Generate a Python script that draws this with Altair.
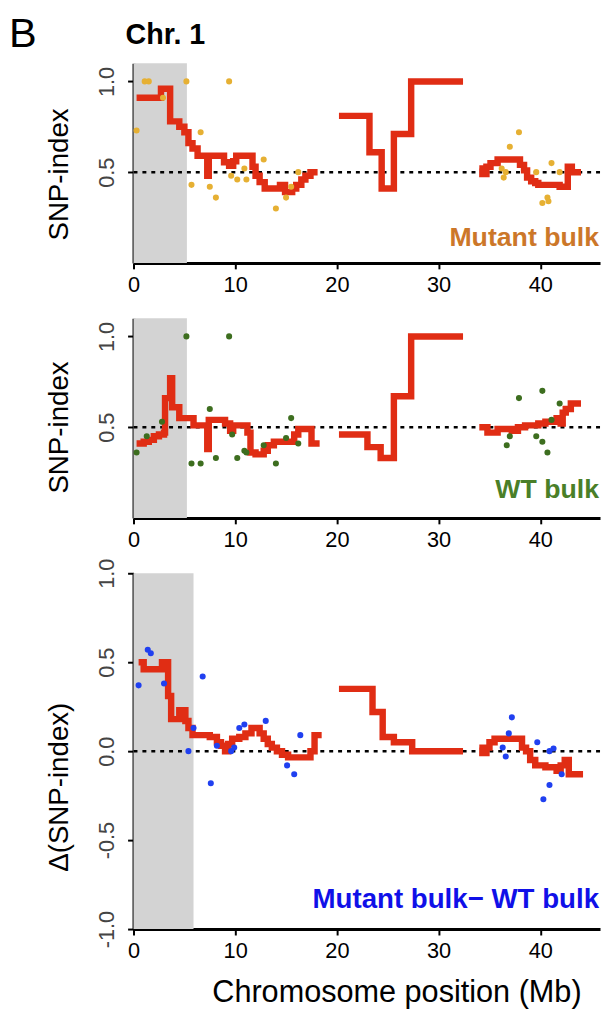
import altair as alt
import pandas as pd

FONT = "Liberation Sans, Arial, Helvetica, sans-serif"

# ---------------- data ----------------
# x-axis ticks (Mb)
x_ticks = [0, 10, 20, 30, 40]
x_max = 45.87

# Panel 1: Mutant bulk SNP-index (sliding-window line, three segments)
mut_seg1_x = [0.3, 2.7, 3.6, 4.5, 5.0, 5.4, 5.8, 6.3, 7.25, 7.4, 8.9, 9.4, 9.8, 10.1, 11.7, 12.0, 12.4, 12.9, 14.4, 14.9, 15.6, 16.0, 16.5, 16.9, 17.4, 18.1]
mut_seg1_y = [0.91, 0.96, 0.78, 0.75, 0.72, 0.66, 0.63, 0.59, 0.48, 0.59, 0.555, 0.535, 0.56, 0.59, 0.53, 0.48, 0.445, 0.41, 0.43, 0.39, 0.41, 0.43, 0.46, 0.48, 0.50, 0.50]
mut_seg2_x = [20.2, 23.2, 24.4, 25.6, 27.3, 32.4]
mut_seg2_y = [0.81, 0.61, 0.41, 0.71, 1.0, 1.0]
mut_seg3_x = [34.0, 34.3, 34.7, 35.1, 35.8, 38.0, 38.4, 38.7, 39.1, 39.5, 39.8, 41.9, 42.7, 43.1, 44.0]
mut_seg3_y = [0.52, 0.49, 0.53, 0.55, 0.57, 0.54, 0.51, 0.47, 0.45, 0.44, 0.43, 0.42, 0.53, 0.50, 0.50]
mut_pts_x = [0.3, 1.1, 1.5, 2.9, 5.2, 5.7, 6.6, 7.5, 8.1, 9.4, 9.6, 10.2, 10.9, 11.1, 12.8, 14.0, 15.0, 15.5, 16.2,
             36.2, 36.4, 36.6, 37.0, 37.9, 39.6, 40.2, 40.7, 40.8, 41.1, 41.9]
mut_pts_y = [0.73, 1.0, 1.0, 0.91, 1.0, 0.43, 0.72, 0.42, 0.36, 1.0, 0.48, 0.46, 0.52, 0.46, 0.57, 0.30, 0.36, 0.42, 0.50,
             0.52, 0.47, 0.50, 0.64, 0.72, 0.50, 0.33, 0.36, 0.34, 0.55, 0.50]

# Panel 2: WT bulk SNP-index
wt_seg1_x = [0.3, 1.0, 1.5, 2.0, 2.5, 3.0, 3.1, 3.6, 3.8, 4.5, 5.9, 7.25, 7.4, 9.0, 9.5, 9.8, 11.2, 11.5, 12.0, 12.8, 13.2, 13.8, 15.8, 16.2, 17.5, 18.3]
wt_seg1_y = [0.41, 0.42, 0.43, 0.45, 0.46, 0.47, 0.66, 0.77, 0.61, 0.55, 0.51, 0.38, 0.54, 0.52, 0.48, 0.51, 0.47, 0.36, 0.35, 0.37, 0.40, 0.42, 0.46, 0.49, 0.41, 0.41]
wt_seg2_x = [20.2, 23.0, 24.3, 25.6, 27.3, 32.4]
wt_seg2_y = [0.46, 0.39, 0.33, 0.67, 1.0, 1.0]
wt_seg3_x = [34.0, 34.8, 35.8, 37.2, 37.8, 38.5, 39.8, 40.5, 41.6, 42.0, 42.2, 42.5, 43.0, 44.0]
wt_seg3_y = [0.50, 0.47, 0.49, 0.48, 0.50, 0.51, 0.52, 0.53, 0.55, 0.52, 0.58, 0.60, 0.63, 0.63]
wt_pts_x = [0.3, 1.3, 2.8, 5.2, 5.7, 6.6, 7.5, 8.1, 9.4, 9.7, 10.2, 10.9, 11.1, 12.8, 14.0, 15.0, 15.5, 16.2,
            36.7, 37.0, 37.9, 39.6, 40.2, 40.2, 40.7, 41.1, 41.9]
wt_pts_y = [0.36, 0.45, 0.53, 1.0, 0.30, 0.30, 0.60, 0.33, 1.0, 0.46, 0.33, 0.37, 0.36, 0.40, 0.30, 0.44, 0.55, 0.41,
            0.40, 0.45, 0.66, 0.45, 0.70, 0.42, 0.36, 0.54, 0.63]

# Panel 3: delta SNP-index
d_seg1_x = [0.5, 1.0, 2.8, 3.4, 3.7, 4.5, 5.1, 5.4, 5.8, 6.1, 7.5, 8.2, 8.6, 9.0, 9.3, 9.7, 10.4, 11.0, 11.6, 12.4, 12.8, 13.2, 13.6, 14.1, 14.6, 15.2, 17.4, 17.8, 18.5]
d_seg1_y = [0.50, 0.46, 0.50, 0.31, 0.18, 0.23, 0.17, 0.13, 0.09, 0.09, 0.08, 0.05, 0.03, 0.00, 0.04, 0.07, 0.08, 0.10, 0.13, 0.10, 0.07, 0.04, 0.02, 0.00, -0.02, -0.035, 0.0, 0.09, 0.09]
d_seg2_x = [20.2, 23.5, 24.5, 25.6, 27.4, 32.4]
d_seg2_y = [0.35, 0.22, 0.08, 0.05, 0.0, 0.0]
d_seg3_x = [34.0, 34.3, 34.7, 35.0, 35.5, 38.2, 38.6, 39.0, 39.5, 40.5, 41.6, 42.0, 42.4, 42.8, 44.2]
d_seg3_y = [0.02, -0.01, 0.02, 0.05, 0.07, 0.02, 0.0, -0.05, -0.08, -0.09, -0.11, -0.08, -0.05, -0.13, -0.13]
d_pts_x = [0.5, 1.4, 1.7, 3.0, 5.4, 5.9, 6.8, 7.6, 8.2, 9.6, 9.9, 10.4, 10.9, 13.0, 15.1, 15.8, 16.4,
           36.3, 36.6, 36.9, 37.2, 39.7, 40.3, 40.9, 40.9, 41.3, 42.1]
d_pts_y = [0.37, 0.57, 0.55, 0.38, 0.0, 0.13, 0.42, -0.18, 0.03, 0.0, 0.02, 0.13, 0.15, 0.17, -0.08, -0.13, 0.09,
           0.02, -0.03, 0.10, 0.19, 0.05, -0.27, -0.19, 0.0, 0.015, -0.13]

# candidate region shading (Mb)
shade_end_snp = 5.25
shade_end_delta = 5.9

RED = "#e02d14"
W = 472


def seg_df(segs):
    rows = []
    for i, (xs, ys) in enumerate(segs):
        for a, b in zip(xs, ys):
            rows.append({"x": a, "y": b, "seg": i})
    return pd.DataFrame(rows)


def panel(h, ydom, yticks, ytitle, ytitle_y, shade_end, segs, px, py, pcolor,
          label, lcolor, lsize, label_y, ref, xtitle=None, extra=None):
    xscale = alt.Scale(domain=[0, x_max], nice=False, zero=False)
    yscale = alt.Scale(domain=ydom, nice=False, zero=False)
    xkw = dict(values=x_ticks, labelFontSize=22, labelPadding=6, labelColor="black",
               labelFlush=False, labelOverlap=False, format="d")
    if xtitle:
        xkw.update(title=xtitle, titleX=266, titleY=73, titleAlign="center",
                   titleBaseline="alphabetic", titleFontSize=31, titleFontWeight="normal",
                   titleColor="black")
    else:
        xkw.update(title=None)
    xaxis = alt.Axis(**xkw)
    yaxis = alt.Axis(values=yticks, labelAngle=-90, labelAlign="center", labelBaseline="alphabetic",
                     labelPadding=14, labelFontSize=22, labelColor="#444444", labelFlush=False,
                     labelOverlap=False,
                     labelExpr="replace(format(datum.value, '.1f'), '\u2212', '-')",
                     title=ytitle, titleAngle=270, titleAlign="center", titleBaseline="alphabetic",
                     titleX=-67, titleY=ytitle_y, titleFontSize=28, titleFontWeight="normal",
                     titleColor="black")
    X = alt.X("x:Q", scale=xscale, axis=xaxis)
    Y = alt.Y("y:Q", scale=yscale, axis=yaxis)

    shade = alt.Chart(pd.DataFrame({"x": [0.0], "x2": [shade_end]})).mark_rect(color="#d3d3d3").encode(
        x=X, x2="x2:Q", y=alt.value(0), y2=alt.value(h))
    rule = alt.Chart(pd.DataFrame({"y": [ref]})).mark_rule(
        color="black", strokeDash=[4, 5], strokeWidth=2.5).encode(y=Y)
    line = alt.Chart(seg_df(segs)).mark_line(
        interpolate="step-after", color=RED, strokeWidth=6.5, strokeJoin="miter").encode(
        x=X, y=Y, detail="seg:N")
    pts = alt.Chart(pd.DataFrame({"x": px, "y": py})).mark_circle(
        size=38, color=pcolor, opacity=1).encode(x=X, y=Y)
    txt = alt.Chart(pd.DataFrame({"t": [label]})).mark_text(
        align="right", baseline="alphabetic", font=FONT, fontSize=lsize, fontWeight="bold",
        color=lcolor).encode(text="t:N", x=alt.value(471), y=alt.value(label_y))
    layers = [shade, rule, line, pts, txt]
    if extra:
        layers += extra
    return alt.layer(*layers).properties(width=W, height=h)


# invisible anchor fixing the top-left corner of the whole figure
anchor = alt.Chart(pd.DataFrame({"a": [0]})).mark_rect(opacity=0).encode(
    x=alt.value(-127), x2=alt.value(-126), y=alt.value(-50), y2=alt.value(-49))
b_txt = alt.Chart(pd.DataFrame({"t": ["B"]})).mark_text(
    align="left", baseline="alphabetic", font=FONT, fontSize=42, color="black").encode(
    text="t:N", x=alt.value(-126), y=alt.value(-16))
chr_txt = alt.Chart(pd.DataFrame({"t": ["Chr. 1"]})).mark_text(
    align="left", baseline="alphabetic", font=FONT, fontSize=29, fontWeight="bold", color="black").encode(
    text="t:N", x=alt.value(-8), y=alt.value(-19))

p1 = panel(202, [0, 1.1], [0.5, 1.0], "SNP-index", 112, shade_end_snp,
           [(mut_seg1_x, mut_seg1_y), (mut_seg2_x, mut_seg2_y), (mut_seg3_x, mut_seg3_y)],
           mut_pts_x, mut_pts_y, "#e6b033", "Mutant bulk", "#cc7729", 27, 185, 0.5,
           extra=[anchor, b_txt, chr_txt])
p2 = panel(202, [0, 1.1], [0.5, 1.0], "SNP-index", 110, shade_end_snp,
           [(wt_seg1_x, wt_seg1_y), (wt_seg2_x, wt_seg2_y), (wt_seg3_x, wt_seg3_y)],
           wt_pts_x, wt_pts_y, "#3d6e1f", "WT bulk", "#4a7f28", 27, 182, 0.5)
p3 = panel(360, [-1, 1], [-1.0, -0.5, 0.0, 0.5, 1.0], "\u0394(SNP-index)", 216, shade_end_delta,
           [(d_seg1_x, d_seg1_y), (d_seg2_x, d_seg2_y), (d_seg3_x, d_seg3_y)],
           d_pts_x, d_pts_y, "#2040f0", "Mutant bulk\u2212 WT bulk", "#1010e8", 28, 339, 0.0,
           xtitle="Chromosome position (Mb)")

chart = alt.vconcat(p1, p2, p3, spacing=56, bounds="flush").properties(
    padding={"left": 0, "top": 0, "right": 0, "bottom": 0},
).configure_view(stroke=None).configure_axis(
    domainColor="black", domainWidth=3, tickColor="black", tickWidth=2, tickSize=6,
    grid=False, labelFont=FONT, titleFont=FONT,
)

chart.save("out.html", embed_options={"renderer": "svg", "actions": False})
